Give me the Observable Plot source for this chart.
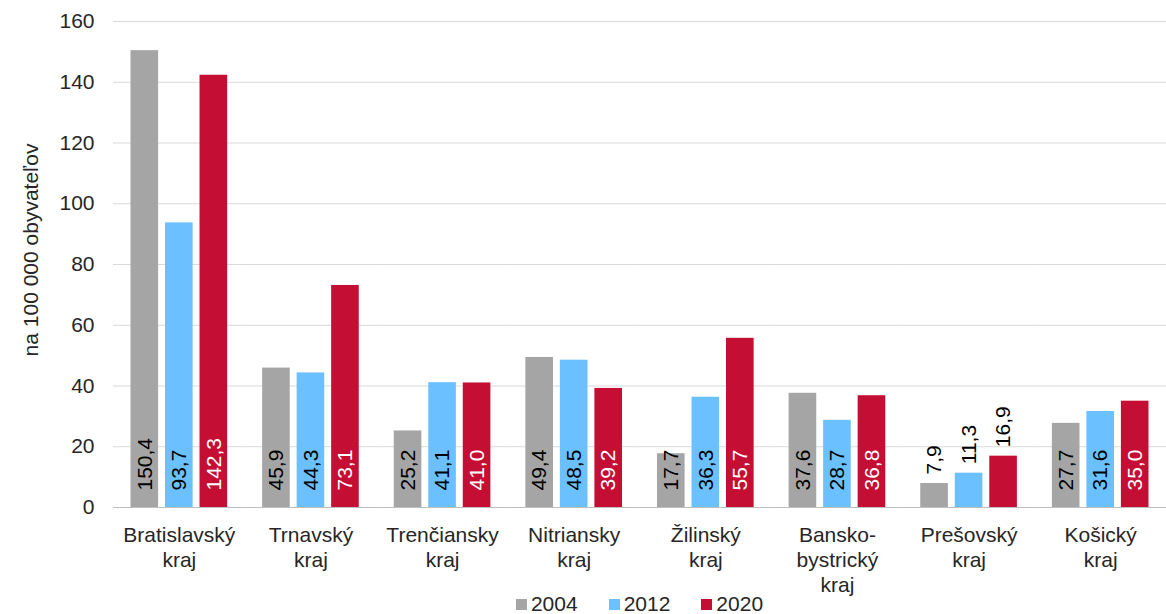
<!DOCTYPE html>
<html>
<head>
<meta charset="utf-8">
<script src="https://cdn.jsdelivr.net/npm/d3@7"></script>
<script src="https://cdn.jsdelivr.net/npm/@observablehq/plot@0.6"></script>
<style>
  html, body { margin: 0; padding: 0; background: white; }
  body { width: 1166px; height: 614px; overflow: hidden; position: relative; font-family: "Liberation Sans", Arial, sans-serif; color: #262626; }
  #chart svg { display: block; }
  #ylabel { position: absolute; left: 31px; top: 250px; transform: translate(-50%, -50%) rotate(-90deg); white-space: nowrap; font-size: 21px; }
  #legend { display: flex; justify-content: center; margin-left: 113px; margin-top: -6px; height: 20px; line-height: 20px; font-size: 21px; gap: 31px; }
  .item { display: flex; align-items: center; }
  .sw { width: 11px; height: 11px; margin-right: 4px; display: inline-block; }
</style>
</head>
<body>
<div id="chart"></div>
<div id="legend"></div>
<div id="ylabel">na 100 000 obyvateľov</div>
<script>
const regions = ["Bratislavský kraj", "Trnavský kraj", "Trenčiansky kraj", "Nitriansky kraj", "Žilinský kraj", "Banskobystrický kraj", "Prešovský kraj", "Košický kraj"];
const regionLabels = ["Bratislavský\nkraj", "Trnavský\nkraj", "Trenčiansky\nkraj", "Nitriansky\nkraj", "Žilinský\nkraj", "Bansko-\nbystrický\nkraj", "Prešovský\nkraj", "Košický\nkraj"];
const years = ["2004", "2012", "2020"];
const v2004 = [150.4, 45.9, 25.2, 49.4, 17.7, 37.6, 7.9, 27.7];
const v2012 = [93.7, 44.3, 41.1, 48.5, 36.3, 28.7, 11.3, 31.6];
const v2020 = [142.3, 73.1, 41.0, 39.2, 55.7, 36.8, 16.9, 35.0];
const yTicks = [0, 20, 40, 60, 80, 100, 120, 140, 160];
const colors = ["#A5A5A5", "#6BC1FF", "#C50E33"];
const outsideRegions = ["Prešovský kraj"];

const series = [v2004, v2012, v2020];
const data = [];
regions.forEach((r, i) => years.forEach((y, j) => data.push({region: r, year: y, value: series[j][i]})));
const fmt = d => d3.format(".1f")(d.value).replace(".", ",");
const labelMap = new Map(regions.map((r, i) => [r, regionLabels[i]]));

const inside = data.filter(d => !outsideRegions.includes(d.region));
const outside = data.filter(d => outsideRegions.includes(d.region));

const font = 21;
const chart = Plot.plot({
  width: 1166,
  height: 600,
  marginLeft: 113,
  marginRight: 0,
  marginTop: 21,
  marginBottom: 93,
  style: {fontFamily: "'Liberation Sans', Arial, sans-serif", fontSize: font + "px", color: "#262626", background: "white"},
  fx: {domain: regions, padding: 0, round: false, label: null, axis: null},
  x: {domain: years, paddingInner: 0.2, paddingOuter: 0.507, round: false, axis: null},
  y: {domain: [0, 160], label: null, axis: null},
  color: {domain: years, range: colors},
  marks: [
    Plot.gridY(yTicks, {stroke: "#d9d9d9", strokeOpacity: 1, strokeWidth: 1}),
    Plot.barY(data, {fx: "region", x: "year", y: "value", fill: "year"}),
    Plot.ruleY([0], {stroke: "#bfbfbf", strokeWidth: 1.2}),
    Plot.text(inside.filter(d => d.year !== "2020"), {fx: "region", x: "year", y: 0, text: fmt, rotate: -90, textAnchor: "start", lineAnchor: "middle", dy: -17, fill: "#000", fontSize: font}),
    Plot.text(inside.filter(d => d.year === "2020"), {fx: "region", x: "year", y: 0, text: fmt, rotate: -90, textAnchor: "start", lineAnchor: "middle", dy: -17, fill: "#fff", fontSize: font}),
    Plot.text(outside, {fx: "region", x: "year", y: "value", text: fmt, rotate: -90, textAnchor: "start", lineAnchor: "middle", dy: -9, fill: "#000", fontSize: font}),
    Plot.axisY(yTicks, {tickSize: 0, tickPadding: 19, label: null, fontSize: font, fill: "#262626"}),
    Plot.axisFx({anchor: "bottom", tickSize: 0, tickPadding: 17, label: null, fontSize: font, lineHeight: 1.18, tickFormat: d => labelMap.get(d), fill: "#262626"})
  ]
});
document.getElementById("chart").appendChild(chart);

const legend = document.getElementById("legend");
years.forEach((y, i) => {
  const item = document.createElement("div");
  item.className = "item";
  const sw = document.createElement("span");
  sw.className = "sw";
  sw.style.background = colors[i];
  item.appendChild(sw);
  item.appendChild(document.createTextNode(y));
  legend.appendChild(item);
});
</script>
</body>
</html>
